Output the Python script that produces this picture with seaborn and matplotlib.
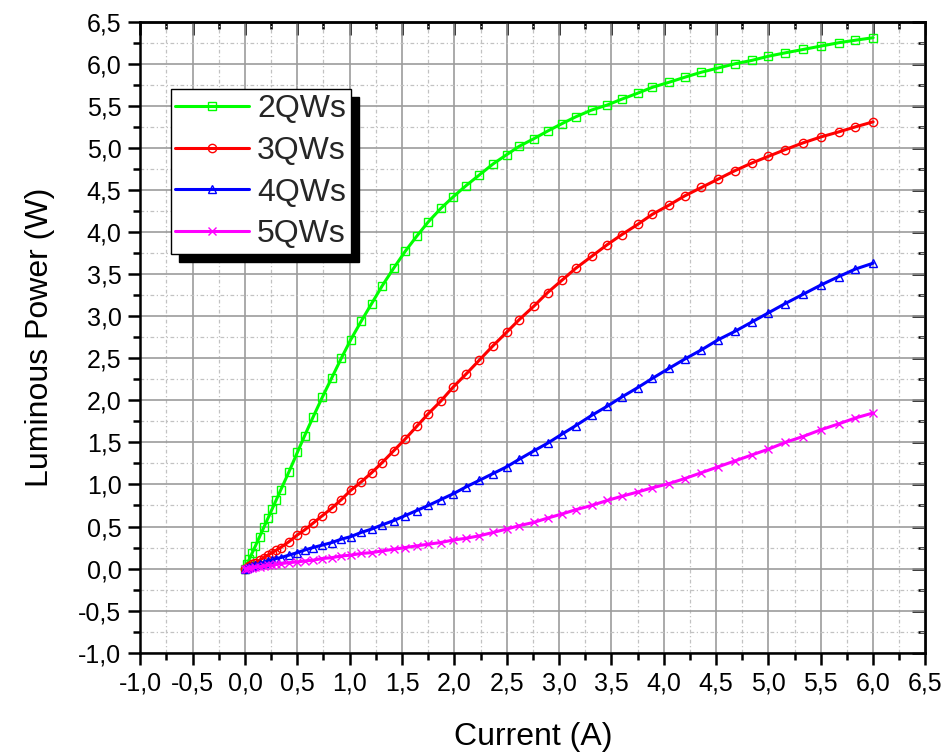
import matplotlib
matplotlib.use("Agg")
import matplotlib.pyplot as plt
import seaborn as sns
import pandas as pd
from matplotlib.ticker import MultipleLocator, FuncFormatter

# Injection current sweep (A)
current = [0.00, 0.02, 0.04, 0.07, 0.10, 0.14, 0.18, 0.22, 0.26, 0.30,
           0.34, 0.42, 0.50, 0.57, 0.65, 0.74, 0.83, 0.92, 1.01, 1.11,
           1.21, 1.31, 1.42, 1.53, 1.64, 1.75, 1.87, 1.99, 2.11, 2.24,
           2.37, 2.50, 2.62, 2.76, 2.89, 3.03, 3.16, 3.31, 3.46, 3.60,
           3.75, 3.89, 4.05, 4.20, 4.36, 4.52, 4.68, 4.84, 5.00, 5.16,
           5.33, 5.50, 5.67, 5.83, 6.00]

# Luminous power (W) for each number of quantum wells
power_2qws = [0.00, 0.05, 0.11, 0.19, 0.27, 0.38, 0.49, 0.60, 0.71, 0.82,
              0.93, 1.15, 1.38, 1.58, 1.80, 2.04, 2.27, 2.50, 2.72, 2.94,
              3.15, 3.36, 3.57, 3.77, 3.95, 4.12, 4.28, 4.42, 4.55, 4.68,
              4.81, 4.92, 5.02, 5.11, 5.20, 5.29, 5.37, 5.45, 5.51, 5.58,
              5.65, 5.72, 5.78, 5.84, 5.90, 5.95, 6.00, 6.04, 6.09, 6.13,
              6.17, 6.21, 6.25, 6.28, 6.31]
power_3qws = [0.00, 0.01, 0.03, 0.05, 0.07, 0.10, 0.13, 0.16, 0.19, 0.22,
              0.25, 0.32, 0.40, 0.46, 0.54, 0.63, 0.72, 0.82, 0.93, 1.03,
              1.14, 1.26, 1.40, 1.54, 1.69, 1.84, 1.99, 2.16, 2.31, 2.48,
              2.65, 2.81, 2.96, 3.12, 3.28, 3.43, 3.57, 3.71, 3.85, 3.97,
              4.09, 4.21, 4.32, 4.43, 4.53, 4.63, 4.73, 4.82, 4.90, 4.98,
              5.06, 5.13, 5.19, 5.25, 5.31]
power_4qws = [0.00, 0.01, 0.02, 0.03, 0.04, 0.06, 0.07, 0.09, 0.10, 0.12,
              0.13, 0.16, 0.19, 0.22, 0.25, 0.28, 0.31, 0.35, 0.38, 0.43,
              0.47, 0.52, 0.57, 0.63, 0.69, 0.75, 0.82, 0.89, 0.97, 1.05,
              1.13, 1.21, 1.30, 1.40, 1.49, 1.60, 1.70, 1.82, 1.93, 2.04,
              2.15, 2.26, 2.38, 2.49, 2.60, 2.72, 2.82, 2.93, 3.04, 3.15,
              3.26, 3.37, 3.47, 3.56, 3.63]
power_5qws = [0.00, 0.00, 0.01, 0.01, 0.02, 0.02, 0.03, 0.04, 0.04, 0.05,
              0.06, 0.07, 0.08, 0.09, 0.10, 0.12, 0.13, 0.15, 0.16, 0.18,
              0.19, 0.21, 0.23, 0.25, 0.27, 0.29, 0.31, 0.34, 0.36, 0.39,
              0.43, 0.47, 0.51, 0.55, 0.60, 0.65, 0.70, 0.75, 0.81, 0.86,
              0.91, 0.96, 1.01, 1.07, 1.14, 1.21, 1.28, 1.35, 1.42, 1.50,
              1.57, 1.65, 1.72, 1.79, 1.85]

series_names = ["2QWs", "3QWs", "4QWs", "5QWs"]
series_colors = ["#00FF00", "#FF0000", "#0000FF", "#FF00FF"]
series_markers = ["s", "o", "^", "x"]

frames = []
for name, vals in zip(series_names, [power_2qws, power_3qws, power_4qws, power_5qws]):
    frames.append(pd.DataFrame({"current": current, "power": vals, "device": name}))
data = pd.concat(frames, ignore_index=True)

sns.set_theme(style="white")
plt.rcParams["font.family"] = ["Liberation Sans", "DejaVu Sans"]

fig = plt.figure(figsize=(9.44, 7.54), dpi=100)
ax = fig.add_axes([0.1486, 0.1343, 0.8318, 0.8369])

for name, color, marker in zip(series_names, series_colors, series_markers):
    sub = data[data["device"] == name]
    sns.lineplot(data=sub, x="current", y="power", ax=ax, color=color,
                 marker=marker, markersize=6, markerfacecolor="none",
                 markeredgecolor=color, markeredgewidth=1.0, linewidth=2.2,
                 label=name, sort=False, estimator=None)

ax.set_xlim(-1.0, 6.5)
ax.set_ylim(-1.0, 6.5)

fmt = FuncFormatter(lambda v, pos: f"{v:.1f}".replace(".", ","))
for axis in (ax.xaxis, ax.yaxis):
    axis.set_major_locator(MultipleLocator(0.5))
    axis.set_minor_locator(MultipleLocator(0.25))
    axis.set_major_formatter(fmt)

ax.set_axisbelow(True)
ax.grid(which="major", color="#9c9c9c", linewidth=1.2, linestyle="-")
ax.grid(which="minor", color="#c2c2c2", linewidth=0.9, linestyle=(0, (3, 2, 1, 2)))

for s in ax.spines.values():
    s.set_linewidth(1.8)
    s.set_color("black")

ax.tick_params(which="both", direction="out", width=1.8, color="black",
               bottom=True, left=True, top=False, right=False,
               labelsize=18, labelcolor="black")
ax.tick_params(which="major", length=8.6, pad=5)
ax.tick_params(which="minor", length=5)

# Mirrored inward ticks on the top and right edges
top = ax.secondary_xaxis("top")
right = ax.secondary_yaxis("right")
for sec, axis in ((top, top.xaxis), (right, right.yaxis)):
    axis.set_major_locator(MultipleLocator(0.5))
    axis.set_minor_locator(MultipleLocator(0.25))
    sec.tick_params(which="both", direction="in", width=1.8, color="black",
                    labeltop=False, labelright=False, labelbottom=False, labelleft=False)
    sec.tick_params(which="major", length=9.5)
    sec.tick_params(which="minor", length=5)
    for s in sec.spines.values():
        s.set_linewidth(1.8)

ax.set_xlabel("Current (A)", fontsize=23, labelpad=19, color="black")
ax.set_ylabel("Luminous Power (W)", fontsize=23, labelpad=17, color="black")

handles, labels = ax.get_legend_handles_labels()
leg = ax.legend(handles, labels, loc="upper left", bbox_to_anchor=(0.0387, 0.893),
                borderaxespad=0, fontsize=23, frameon=True, fancybox=False,
                edgecolor="black", framealpha=1, handlelength=2.3,
                handletextpad=0.25, labelspacing=0.37, borderpad=0.15,
                numpoints=1,
                shadow={"ox": 5.8, "oy": -5.8, "facecolor": "black",
                        "edgecolor": "black", "alpha": 1})
leg.get_frame().set_linewidth(1.0)

fig.savefig("out.png", dpi=100)
